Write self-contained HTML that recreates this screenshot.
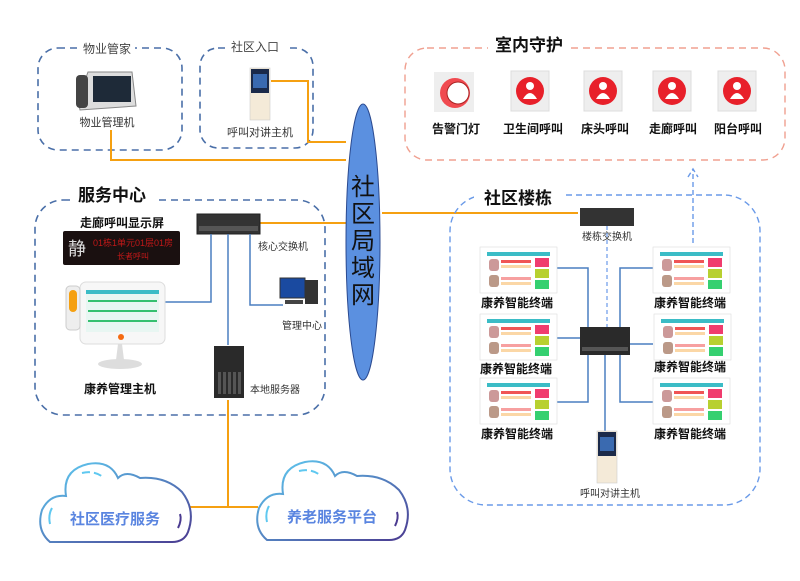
<!DOCTYPE html>
<html><head><meta charset="utf-8"><style>
html,body{margin:0;padding:0;background:#fff;}
svg{display:block;font-family:"Liberation Sans","Noto Sans CJK SC",sans-serif;}
</style></head><body>
<svg width="800" height="581" viewBox="0 0 800 581" xmlns="http://www.w3.org/2000/svg">
<defs>
<linearGradient id="cg" x1="0" y1="0" x2="1" y2="1"><stop offset="0" stop-color="#5fd0f5"/><stop offset="1" stop-color="#4a3a90"/></linearGradient>
<g id="term">
<rect x="0" y="0" width="77" height="46" fill="#fff" stroke="#ddd" stroke-width="0.6"/>
<rect x="7" y="5" width="63" height="4" fill="#3bbcc6"/>
<rect x="9" y="12" width="10" height="12" fill="#c99" rx="3"/>
<rect x="21" y="13" width="30" height="3" fill="#f05555"/>
<rect x="21" y="18" width="30" height="3" fill="#fbd7a6"/>
<rect x="9" y="28" width="10" height="12" fill="#b98" rx="3"/>
<rect x="21" y="30" width="30" height="3" fill="#f7a0a0"/>
<rect x="21" y="35" width="30" height="3" fill="#fbd7a6"/>
<rect x="55" y="11" width="14" height="9" fill="#f03c6e"/>
<rect x="55" y="22" width="14" height="9" fill="#b8d030"/>
<rect x="55" y="33" width="14" height="9" fill="#35d070"/>
</g>
<g id="btn">
<rect x="-19" y="-20" width="38" height="40" fill="#eee" stroke="#ddd"/>
<circle cx="0" cy="0" r="14" fill="#e8202a"/>
<circle cx="0" cy="-5" r="4" fill="#fff"/>
<path d="M-7 8 Q0 -4 7 8 Z" fill="#fff"/>
</g>
<g id="icm">
<rect x="0" y="0" width="20" height="52" fill="#f4ead8" stroke="#ccc" stroke-width="0.6"/>
<rect x="1" y="1" width="18" height="24" fill="#1b2a4a"/>
<rect x="3" y="6" width="14" height="14" fill="#3a6ab0"/>
</g>
</defs>

<rect x="38" y="48" width="144" height="102" rx="20" fill="none" stroke="#4a6fa8" stroke-width="1.6" stroke-dasharray="7,5"/>
<rect x="80" y="40" width="55" height="16" fill="#fff"/>
<text x="107" y="53" font-size="12" text-anchor="middle" fill="#444">物业管家</text>
<rect x="200" y="48" width="113" height="100" rx="18" fill="none" stroke="#4a6fa8" stroke-width="1.6" stroke-dasharray="7,5"/>
<rect x="225" y="38" width="60" height="16" fill="#fff"/>
<text x="255" y="51" font-size="12" text-anchor="middle" fill="#444">社区入口</text>
<path d="M78 100 L88 72 L132 72 L136 106 L80 110 Z" fill="#ddd" stroke="#888"/>
<rect x="93" y="76" width="38" height="26" fill="#1e2a38"/>
<rect x="76" y="75" width="12" height="33" rx="4" fill="#444"/>
<text x="107" y="126" font-size="11" text-anchor="middle" fill="#333">物业管理机</text>
<use href="#icm" x="250" y="68"/>
<text x="260" y="136" font-size="11" text-anchor="middle" fill="#333">呼叫对讲主机</text>

<g stroke="#f5a011" stroke-width="2" fill="none">
<path d="M271 81 H308 V142 H346"/>
<path d="M111 130 V160 H346"/>
<path d="M260 223 H346"/>
<path d="M382 213 H578"/>
<path d="M228 400 V507 M190 507 H258"/>
</g>

<ellipse cx="363" cy="242" rx="17" ry="138" fill="#5b90e0" stroke="#2b4a90" stroke-width="1"/>
<g font-size="24" text-anchor="middle" fill="#111">
<text x="363" y="195">社</text><text x="363" y="222">区</text><text x="363" y="249">局</text><text x="363" y="276">域</text><text x="363" y="303">网</text>
</g>

<rect x="35" y="200" width="290" height="215" rx="28" fill="none" stroke="#4a6fa8" stroke-width="1.6" stroke-dasharray="7,5"/>
<rect x="72" y="184" width="86" height="22" fill="#fff"/>
<text x="112" y="201" font-size="17" font-weight="bold" text-anchor="middle" fill="#111">服务中心</text>
<text x="122" y="227" font-size="12" font-weight="bold" text-anchor="middle" fill="#111">走廊呼叫显示屏</text>
<rect x="63" y="231" width="117" height="34" rx="2" fill="#1a1010"/>
<text x="77" y="255" font-size="18" fill="#ddd" text-anchor="middle">静</text>
<text x="133" y="246" font-size="9" fill="#c01818" text-anchor="middle">01栋1单元01层01房</text>
<text x="133" y="259" font-size="8" fill="#c01818" text-anchor="middle">长者呼叫</text>
<rect x="197" y="214" width="63" height="20" fill="#333" stroke="#222"/>
<rect x="199" y="226" width="59" height="5" fill="#555"/>
<text x="283" y="250" font-size="10" text-anchor="middle" fill="#333">核心交换机</text>
<g stroke="#4a7fc0" stroke-width="1.5" fill="none">
<path d="M211 234 V302 H165"/>
<path d="M228 234 V345"/>
<path d="M250 234 V305 H283"/>
</g>
<rect x="280" y="278" width="25" height="20" fill="#1a4aa0" stroke="#333"/>
<rect x="305" y="280" width="13" height="24" fill="#333"/>
<rect x="285" y="300" width="18" height="4" fill="#444"/>
<text x="302" y="329" font-size="10" text-anchor="middle" fill="#333">管理中心</text>
<rect x="80" y="282" width="85" height="62" rx="6" fill="#f7f7f7" stroke="#ddd"/>
<rect x="86" y="290" width="73" height="42" fill="#e8f6f2"/>
<rect x="86" y="290" width="73" height="4" fill="#3bbcc6"/>
<g fill="#35c070"><rect x="88" y="300" width="69" height="2"/><rect x="88" y="310" width="69" height="2"/><rect x="88" y="320" width="69" height="2"/></g>
<rect x="66" y="286" width="14" height="44" rx="4" fill="#eee" stroke="#ccc"/>
<rect x="69" y="290" width="8" height="22" rx="4" fill="#f5a011"/>
<circle cx="121" cy="337" r="3" fill="#f56a11"/>
<path d="M118 344 L116 360 L124 360 L122 344 Z" fill="#ddd"/>
<ellipse cx="120" cy="364" rx="22" ry="5" fill="#ddd"/>
<text x="120" y="393" font-size="12" font-weight="bold" text-anchor="middle" fill="#111">康养管理主机</text>
<rect x="214" y="346" width="30" height="52" fill="#2a2a2a"/>
<g fill="#555"><rect x="218" y="372" width="3" height="22"/><rect x="223" y="372" width="3" height="22"/><rect x="228" y="372" width="3" height="22"/><rect x="233" y="372" width="3" height="22"/><rect x="238" y="372" width="3" height="22"/></g>
<text x="275" y="393" font-size="10" text-anchor="middle" fill="#333">本地服务器</text>

<path d="M50 542 Q36 530 42 510 Q50 494 66 496 Q62 470 88 464 Q110 460 118 478 Q126 470 140 478 Q166 476 182 492 Q196 510 188 532 Q184 542 172 542 Z" fill="#fff" stroke="url(#cg)" stroke-width="2"/>
<path d="M82 473 Q95 470 104 478" stroke="#5fc8f0" stroke-width="2" fill="none" stroke-dasharray="8,4"/>
<path d="M52 508 Q48 515 50 524" stroke="#5fc8f0" stroke-width="2" fill="none"/>
<path d="M180 514 Q182 520 178 528" stroke="#4a3a90" stroke-width="2" fill="none"/>
<text x="115" y="524" font-size="15" font-weight="bold" text-anchor="middle" fill="#5a85e0">社区医疗服务</text>
<path d="M267 540 Q253 528 259 508 Q267 492 283 494 Q279 468 305 462 Q327 458 335 476 Q343 468 357 476 Q383 474 399 490 Q413 508 405 530 Q401 540 389 540 Z" fill="#fff" stroke="url(#cg)" stroke-width="2"/>
<path d="M299 471 Q312 468 321 476" stroke="#5fc8f0" stroke-width="2" fill="none" stroke-dasharray="8,4"/>
<path d="M269 506 Q265 513 267 522" stroke="#5fc8f0" stroke-width="2" fill="none"/>
<path d="M397 512 Q399 518 395 526" stroke="#4a3a90" stroke-width="2" fill="none"/>
<text x="332" y="522" font-size="15" font-weight="bold" text-anchor="middle" fill="#5a85e0">养老服务平台</text>

<rect x="405" y="48" width="380" height="112" rx="22" fill="none" stroke="#f0a090" stroke-width="1.4" stroke-dasharray="7,5"/>
<rect x="488" y="34" width="82" height="22" fill="#fff"/>
<text x="529" y="51" font-size="17" font-weight="bold" text-anchor="middle" fill="#111">室内守护</text>
<rect x="434" y="72" width="40" height="40" fill="#eee"/>
<circle cx="455" cy="93" r="15" fill="#f04a50"/>
<circle cx="458" cy="93" r="11" fill="#fff" stroke="#a22"/>
<use href="#btn" x="530" y="91"/>
<use href="#btn" x="603" y="91"/>
<use href="#btn" x="672" y="91"/>
<use href="#btn" x="737" y="91"/>
<g font-size="12" font-weight="bold" text-anchor="middle" fill="#111">
<text x="456" y="133">告警门灯</text><text x="533" y="133">卫生间呼叫</text><text x="605" y="133">床头呼叫</text><text x="673" y="133">走廊呼叫</text><text x="738" y="133">阳台呼叫</text>
</g>

<rect x="450" y="195" width="310" height="310" rx="36" fill="none" stroke="#6a9ae8" stroke-width="1.4" stroke-dasharray="6,4"/>
<rect x="474" y="186" width="90" height="22" fill="#fff"/>
<text x="518" y="204" font-size="17" font-weight="bold" text-anchor="middle" fill="#111">社区楼栋</text>
<path d="M693 243 V170 M688 177 L693 169 L698 177" stroke="#6a9ae8" stroke-width="1.4" fill="none" stroke-dasharray="5,3"/>
<rect x="580" y="208" width="54" height="18" fill="#333"/>
<text x="607" y="240" font-size="10" text-anchor="middle" fill="#333">楼栋交换机</text>
<path d="M607 226 V328" stroke="#6a9ae8" stroke-width="1.2" stroke-dasharray="4,3"/>
<g stroke="#4a7fc0" stroke-width="1.5" fill="none">
<path d="M557 268 H588 V328"/><path d="M557 338 H580"/><path d="M557 402 H588 V355"/>
<path d="M653 268 H620 V328"/><path d="M653 344 H630"/><path d="M653 402 H620 V355"/>
<path d="M605 355 V432"/>
</g>
<rect x="580" y="327" width="50" height="28" fill="#2a2a2a"/>
<rect x="582" y="347" width="46" height="4" fill="#555"/>
<use href="#term" x="480" y="247"/><use href="#term" x="480" y="314"/><use href="#term" x="480" y="378"/>
<use href="#term" x="653" y="247"/><use href="#term" x="654" y="314"/><use href="#term" x="653" y="378"/>
<g font-size="12" font-weight="bold" text-anchor="middle" fill="#111">
<text x="517" y="307">康养智能终端</text><text x="516" y="373">康养智能终端</text><text x="517" y="438">康养智能终端</text>
<text x="690" y="307">康养智能终端</text><text x="690" y="371">康养智能终端</text><text x="690" y="438">康养智能终端</text>
</g>
<use href="#icm" x="597" y="431"/>
<text x="610" y="497" font-size="10" text-anchor="middle" fill="#333">呼叫对讲主机</text>
</svg>
</body></html>
